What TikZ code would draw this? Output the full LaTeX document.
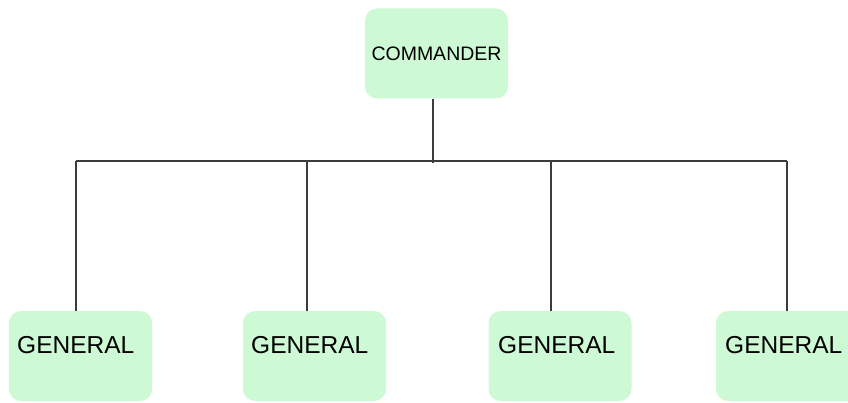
\documentclass[tikz,border=0pt]{standalone}
\usepackage{fontspec}
\setmainfont{Liberation Sans}
\definecolor{boxfill}{RGB}{205,249,212}
\definecolor{linecol}{RGB}{60,60,60}
\begin{document}
\begin{tikzpicture}[x=1pt,y=-1pt,
  box/.style={draw=none,fill=boxfill,rounded corners=12pt,inner sep=0pt},
  cmdbox/.style={box,minimum width=143pt,minimum height=90pt,font=\fontsize{19.5}{23}\selectfont},
  genbox/.style={box,minimum width=143pt,minimum height=90pt},
  genlabel/.style={font=\fontsize{24.5}{29}\selectfont,anchor=base west,inner sep=0pt},
  wire/.style={draw=linecol,line width=1.2pt}]
\useasboundingbox (0,0) rectangle (848,403);
\clip (0,0) rectangle (848,403);
\node[cmdbox] (c) at (436.5,53.5) {COMMANDER};
\node[genbox] (g1) at (80.5,356) {};
\node[genbox] (g2) at (314.5,356) {};
\node[genbox] (g3) at (560,356) {};
\node[genbox] (g4) at (787.5,356) {};
\node[genlabel] (t1) at (17,353) {GENERAL};
\node[genlabel] (t2) at (251,353) {GENERAL};
\node[genlabel] (t3) at (498,353) {GENERAL};
\node[genlabel] (t4) at (725,353) {GENERAL};
\coordinate (b0) at (433,161);
\coordinate (b1) at (76,161);
\coordinate (b2) at (307,161);
\coordinate (b3) at (551,161);
\coordinate (b4) at (787,161);
\draw[wire] (b1) -- (b4);
\draw[wire] (b0 |- c.south) -- ([yshift=-2pt]b0);
\draw[wire] (b1) -- (b1 |- g1.north);
\draw[wire] (b2) -- (b2 |- g2.north);
\draw[wire] (b3) -- (b3 |- g3.north);
\draw[wire] (b4) -- (b4 |- g4.north);
\end{tikzpicture}
\end{document}
